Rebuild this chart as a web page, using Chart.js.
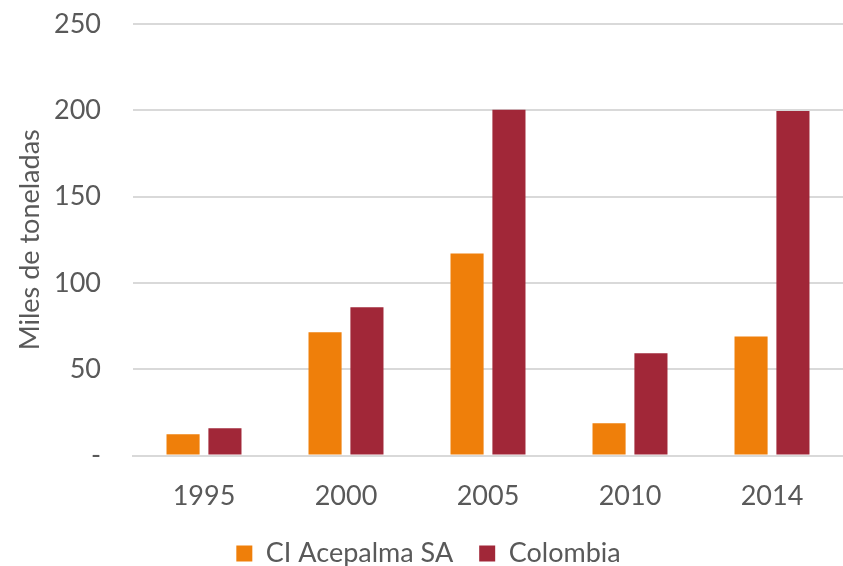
<!DOCTYPE html>
<html lang="es">
<head>
  <meta charset="UTF-8">
  <title>Miles de toneladas</title>
  <script src="https://cdn.jsdelivr.net/npm/chart.js"></script>
  <style>
    html, body { margin: 0; padding: 0; background: #fff; }
    #wrap { width: 843px; height: 566px; }
  </style>
</head>
<body>
  <div id="wrap"><canvas id="chart" width="843" height="566"></canvas></div>
  <script>
    const years = ['1995', '2000', '2005', '2010', '2014'];
    const acepalma = [12.3, 71.5, 117, 18.8, 69];
    const colombia = [15.8, 86, 200.3, 59.3, 199.6];
    const yTicks = [0, 50, 100, 150, 200, 250];

    const grey = '#595959';
    const font = 'Lato, "Open Sans", sans-serif';

    // pull the legend a bit closer to the axis labels
    const legendShift = {
      id: 'legendShift',
      afterLayout(chart) {
        chart.legend.top -= 22;
        chart.legend.bottom -= 22;
      }
    };

    new Chart(document.getElementById('chart').getContext('2d'), {
      type: 'bar',
      data: {
        labels: years,
        datasets: [
          { label: 'CI Acepalma SA', data: acepalma, backgroundColor: '#ef7f0a' },
          { label: 'Colombia', data: colombia, backgroundColor: '#a12738' }
        ]
      },
      plugins: [legendShift],
      options: {
        responsive: false,
        animation: false,
        layout: { padding: { top: 24, right: 0, bottom: -33, left: 14 } },
        datasets: { bar: { categoryPercentage: 0.59, barPercentage: 0.79 } },
        plugins: {
          legend: {
            position: 'bottom',
            labels: {
              color: grey,
              font: { family: font, size: 27 },
              boxWidth: 16,
              boxHeight: 16,
              padding: 26
            }
          },
          tooltip: { enabled: false }
        },
        scales: {
          x: {
            grid: { display: false, drawTicks: false },
            border: { color: '#d9d9d9', width: 2 },
            ticks: { color: grey, font: { family: font, size: 27 }, padding: 24 }
          },
          y: {
            min: 0,
            max: 250,
            afterBuildTicks: axis => { axis.ticks = yTicks.map(v => ({ value: v })); },
            afterFit: axis => {
              axis.width = 119;
              axis.paddingTop = 0;
              axis.paddingBottom = 0;
            },
            grid: { color: '#d9d9d9', lineWidth: 2, drawTicks: false },
            border: { display: false },
            ticks: {
              color: grey,
              font: { family: font, size: 27 },
              padding: 32,
              callback: v => v === 0 ? '-' : v
            },
            title: {
              display: true,
              text: 'Miles de toneladas',
              color: grey,
              font: { family: font, size: 27 },
              padding: { top: 0, bottom: 0 }
            }
          }
        }
      }
    });
  </script>
</body>
</html>
